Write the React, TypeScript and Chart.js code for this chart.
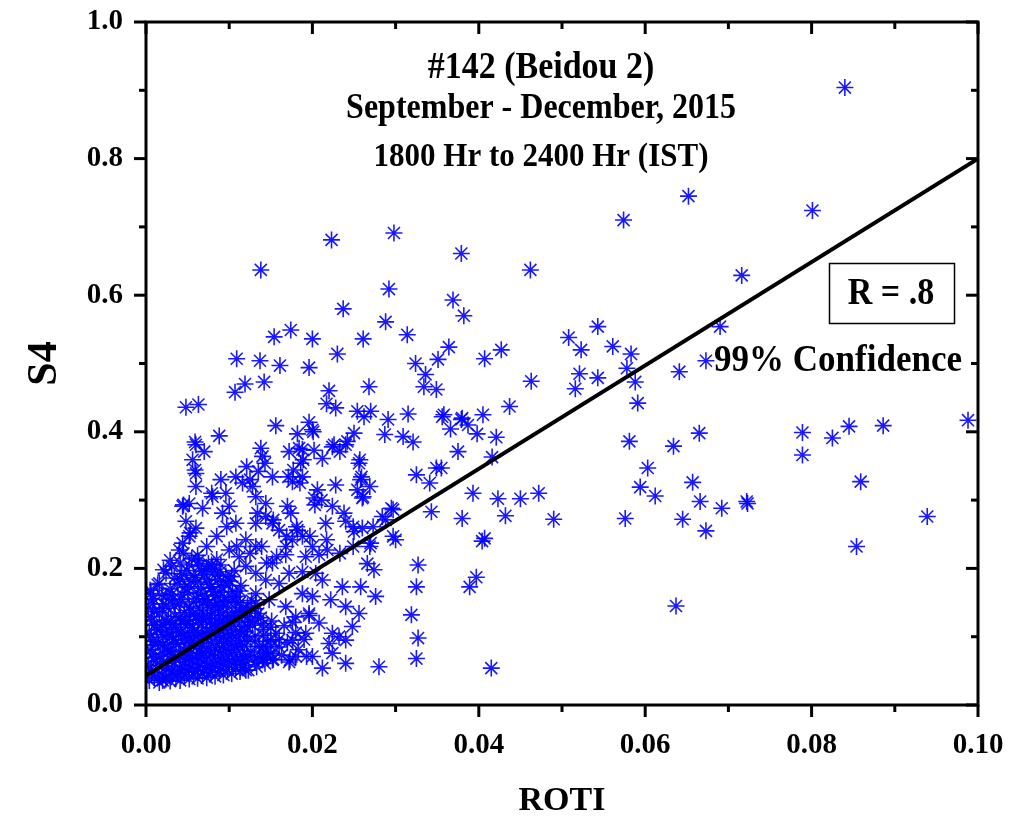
import React, { useEffect, useRef } from 'react';
import { Chart, registerables } from 'chart.js';

Chart.register(...registerables);

// ---------- data ----------
const xTickValues = [0, 0.02, 0.04, 0.06, 0.08, 0.1];
const xMinorTicks = [0.01, 0.03, 0.05, 0.07, 0.09];
const yTickValues = [0, 0.2, 0.4, 0.6, 0.8, 1.0];
const yMinorTicks = [0.1, 0.3, 0.5, 0.7, 0.9];

const titleLines = ['#142 (Beidou 2)', 'September - December, 2015', '1800 Hr to 2400 Hr (IST)'];
const xAxisTitle = 'ROTI';
const yAxisTitle = 'S4';
const rLabel = 'R = .8';
const confidenceLabel = '99% Confidence';

// linear fit endpoints (ROTI, S4)
const fitRoti = [0, 0.1];
const fitS4 = [0.043, 0.8];

const sparsePoints: [number, number][] = [
  [0.0840, 0.904], [0.0652, 0.745], [0.0574, 0.710], [0.0801, 0.724], [0.0298, 0.691],
  [0.0223, 0.681], [0.0379, 0.661], [0.0138, 0.637], [0.0462, 0.637], [0.0716, 0.629],
  [0.0292, 0.609], [0.0369, 0.593], [0.0237, 0.580], [0.0382, 0.570], [0.0288, 0.561],
  [0.0690, 0.554], [0.0543, 0.554], [0.0174, 0.549], [0.0314, 0.542], [0.0154, 0.539],
  [0.0508, 0.538], [0.0200, 0.536], [0.0261, 0.536], [0.0561, 0.525], [0.0364, 0.524],
  [0.0523, 0.520], [0.0427, 0.520], [0.0230, 0.514], [0.0583, 0.514], [0.0109, 0.507],
  [0.0407, 0.507], [0.0351, 0.506], [0.0137, 0.504], [0.0673, 0.504], [0.0324, 0.500],
  [0.0161, 0.497], [0.0196, 0.494], [0.0578, 0.493], [0.0641, 0.488], [0.0521, 0.485],
  [0.0336, 0.484], [0.0543, 0.479], [0.0463, 0.474], [0.0588, 0.473], [0.0142, 0.473],
  [0.0119, 0.470], [0.0334, 0.466], [0.0268, 0.466], [0.0516, 0.463], [0.0349, 0.462],
  [0.0220, 0.460], [0.0107, 0.458], [0.0591, 0.442], [0.0217, 0.441], [0.0063, 0.440],
  [0.0437, 0.437], [0.0048, 0.436], [0.0228, 0.435], [0.0254, 0.430], [0.0270, 0.430],
  [0.0315, 0.426], [0.0405, 0.425], [0.0358, 0.425], [0.0262, 0.422], [0.0356, 0.422],
  [0.0380, 0.420], [0.0291, 0.418], [0.0379, 0.418], [0.0988, 0.417], [0.0196, 0.414],
  [0.0387, 0.410], [0.0156, 0.409], [0.0886, 0.409], [0.0845, 0.408], [0.0366, 0.404],
  [0.0200, 0.403], [0.0201, 0.400], [0.0789, 0.399], [0.0665, 0.398], [0.0250, 0.398],
  [0.0182, 0.397], [0.0398, 0.397], [0.0287, 0.396], [0.0088, 0.394], [0.0309, 0.393],
  [0.0421, 0.392], [0.0825, 0.391], [0.0581, 0.386], [0.0242, 0.386], [0.0059, 0.385],
  [0.0321, 0.385], [0.0226, 0.381], [0.0060, 0.381], [0.0240, 0.381], [0.0634, 0.379],
  [0.0224, 0.378], [0.0138, 0.376], [0.0184, 0.376], [0.0188, 0.374], [0.0202, 0.373],
  [0.0070, 0.371], [0.0172, 0.371], [0.0233, 0.371], [0.0375, 0.371], [0.0789, 0.366],
  [0.0416, 0.363], [0.0212, 0.361], [0.0056, 0.359], [0.0189, 0.359], [0.0257, 0.359],
  [0.0140, 0.364], [0.0143, 0.354], [0.0186, 0.354], [0.0256, 0.354], [0.0121, 0.349],
  [0.0603, 0.347], [0.0349, 0.347], [0.0355, 0.347], [0.0059, 0.344], [0.0177, 0.344],
  [0.0135, 0.342], [0.0060, 0.339], [0.0325, 0.337], [0.0108, 0.334], [0.0152, 0.334],
  [0.0171, 0.334], [0.0188, 0.334], [0.0259, 0.334], [0.0090, 0.330], [0.0125, 0.330],
  [0.0258, 0.330], [0.0176, 0.327], [0.0859, 0.327], [0.0657, 0.326], [0.0116, 0.325],
  [0.0185, 0.325], [0.0341, 0.325], [0.0228, 0.322], [0.0060, 0.320], [0.0128, 0.320],
  [0.0269, 0.320], [0.0594, 0.319], [0.0206, 0.315], [0.0254, 0.315], [0.0079, 0.310],
  [0.0096, 0.310], [0.0393, 0.310], [0.0472, 0.310], [0.0612, 0.306], [0.0080, 0.305],
  [0.0132, 0.305], [0.0261, 0.305], [0.0202, 0.303], [0.0260, 0.303], [0.0423, 0.302],
  [0.0450, 0.302], [0.0211, 0.300], [0.0666, 0.298], [0.0722, 0.298], [0.0723, 0.295],
  [0.0144, 0.295], [0.0052, 0.295], [0.0045, 0.293], [0.0203, 0.293], [0.0044, 0.291],
  [0.0100, 0.291], [0.0170, 0.291], [0.0224, 0.291], [0.0692, 0.288], [0.0068, 0.288],
  [0.0295, 0.288], [0.0297, 0.286], [0.0343, 0.283], [0.0092, 0.281], [0.0174, 0.281],
  [0.0238, 0.281], [0.0134, 0.281], [0.0432, 0.277], [0.0284, 0.276], [0.0144, 0.276],
  [0.0939, 0.276], [0.0380, 0.273], [0.0576, 0.273], [0.0645, 0.272], [0.0490, 0.272],
  [0.0288, 0.271], [0.0153, 0.271], [0.0048, 0.269], [0.0240, 0.269], [0.0108, 0.266],
  [0.0132, 0.266], [0.0152, 0.266], [0.0216, 0.266], [0.0097, 0.261], [0.0181, 0.261],
  [0.0249, 0.261], [0.0273, 0.261], [0.0060, 0.259], [0.0260, 0.259], [0.0160, 0.256],
  [0.0182, 0.256], [0.0673, 0.255], [0.0250, 0.254], [0.0053, 0.252], [0.0052, 0.247],
  [0.0085, 0.247], [0.0169, 0.247], [0.0188, 0.247], [0.0197, 0.247], [0.0297, 0.247],
  [0.0407, 0.244], [0.0404, 0.240], [0.0120, 0.242], [0.0176, 0.242], [0.0217, 0.242],
  [0.0300, 0.242], [0.0044, 0.237], [0.0270, 0.237], [0.0854, 0.232], [0.0073, 0.232],
  [0.0109, 0.232], [0.0132, 0.232], [0.0139, 0.232], [0.0168, 0.232], [0.0200, 0.232],
  [0.0249, 0.232], [0.0269, 0.232], [0.0040, 0.227], [0.0100, 0.227], [0.0218, 0.227],
  [0.0045, 0.222], [0.0125, 0.222], [0.0233, 0.222], [0.0112, 0.217], [0.0157, 0.217],
  [0.0168, 0.220], [0.0192, 0.217], [0.0208, 0.220], [0.0029, 0.212], [0.0145, 0.208],
  [0.0152, 0.208], [0.0266, 0.207], [0.0327, 0.205], [0.0120, 0.203], [0.0021, 0.198],
  [0.0274, 0.198], [0.0188, 0.195], [0.0024, 0.193], [0.0132, 0.193], [0.0172, 0.193],
  [0.0204, 0.193], [0.0397, 0.187], [0.0144, 0.183], [0.0212, 0.183], [0.0016, 0.178],
  [0.0160, 0.178], [0.0236, 0.173], [0.0258, 0.173], [0.0325, 0.173], [0.0389, 0.173],
  [0.0006, 0.163], [0.0132, 0.163], [0.0188, 0.163], [0.0200, 0.159], [0.0276, 0.159],
  [0.0148, 0.154], [0.0222, 0.154], [0.0637, 0.145], [0.0168, 0.144], [0.0240, 0.144],
  [0.0256, 0.134], [0.0196, 0.134], [0.0319, 0.132], [0.0180, 0.129], [0.0208, 0.120],
  [0.0248, 0.115], [0.0224, 0.105], [0.0192, 0.105], [0.0232, 0.100], [0.0327, 0.098],
  [0.0240, 0.095], [0.0176, 0.095], [0.0220, 0.090], [0.0160, 0.085], [0.0144, 0.076],
  [0.0224, 0.076], [0.0200, 0.071], [0.0180, 0.071], [0.0325, 0.068], [0.0140, 0.066],
  [0.0152, 0.066], [0.0172, 0.063], [0.0240, 0.061], [0.0280, 0.056], [0.0212, 0.054],
  [0.0415, 0.054], [0.0120, 0.051],
];

// dense cloud of low ROTI / low S4 observations near the origin
const clusterPoints: [number, number][] = [
  [0.0004, 0.036], [0.0007, 0.047], [0.0003, 0.058], [0.0009, 0.069], [0.0005, 0.081], [0.0008, 0.093],
  [0.0004, 0.105], [0.0010, 0.117], [0.0006, 0.129], [0.0003, 0.142], [0.0009, 0.155], [0.0005, 0.168],
  [0.0016, 0.033], [0.0019, 0.043], [0.0014, 0.052], [0.0021, 0.061], [0.0017, 0.071], [0.0022, 0.082],
  [0.0015, 0.092], [0.0020, 0.103], [0.0018, 0.113], [0.0023, 0.124], [0.0016, 0.135], [0.0021, 0.148],
  [0.0019, 0.161], [0.0014, 0.176],
  [0.0029, 0.035], [0.0032, 0.045], [0.0027, 0.054], [0.0034, 0.063], [0.0030, 0.074], [0.0026, 0.085],
  [0.0033, 0.096], [0.0028, 0.107], [0.0031, 0.118], [0.0035, 0.130], [0.0027, 0.142], [0.0032, 0.155],
  [0.0029, 0.170], [0.0034, 0.186], [0.0031, 0.203],
  [0.0041, 0.036], [0.0038, 0.046], [0.0044, 0.057], [0.0040, 0.067], [0.0045, 0.078], [0.0039, 0.089],
  [0.0043, 0.100], [0.0037, 0.111], [0.0042, 0.123], [0.0046, 0.135], [0.0040, 0.148], [0.0044, 0.161],
  [0.0038, 0.177], [0.0043, 0.192], [0.0041, 0.208],
  [0.0052, 0.038], [0.0049, 0.048], [0.0055, 0.059], [0.0051, 0.069], [0.0047, 0.080], [0.0054, 0.091],
  [0.0050, 0.102], [0.0056, 0.113], [0.0048, 0.125], [0.0053, 0.138], [0.0057, 0.151], [0.0050, 0.165],
  [0.0054, 0.181], [0.0049, 0.197], [0.0055, 0.214],
  [0.0062, 0.039], [0.0059, 0.050], [0.0065, 0.061], [0.0061, 0.072], [0.0066, 0.083], [0.0058, 0.094],
  [0.0063, 0.106], [0.0067, 0.118], [0.0060, 0.130], [0.0064, 0.142], [0.0061, 0.156], [0.0066, 0.171],
  [0.0059, 0.187], [0.0064, 0.203], [0.0062, 0.219],
  [0.0073, 0.040], [0.0070, 0.052], [0.0076, 0.063], [0.0071, 0.075], [0.0068, 0.086], [0.0075, 0.098],
  [0.0072, 0.109], [0.0077, 0.121], [0.0069, 0.134], [0.0074, 0.147], [0.0071, 0.161], [0.0076, 0.177],
  [0.0070, 0.191], [0.0075, 0.207],
  [0.0083, 0.042], [0.0080, 0.054], [0.0086, 0.066], [0.0081, 0.078], [0.0078, 0.090], [0.0085, 0.101],
  [0.0082, 0.113], [0.0087, 0.126], [0.0079, 0.139], [0.0084, 0.153], [0.0081, 0.167], [0.0086, 0.183],
  [0.0080, 0.199], [0.0085, 0.213],
  [0.0093, 0.044], [0.0090, 0.056], [0.0096, 0.068], [0.0091, 0.081], [0.0088, 0.093], [0.0095, 0.105],
  [0.0092, 0.118], [0.0097, 0.131], [0.0089, 0.144], [0.0094, 0.158], [0.0091, 0.173], [0.0096, 0.189],
  [0.0090, 0.205],
  [0.0103, 0.046], [0.0100, 0.059], [0.0106, 0.071], [0.0101, 0.084], [0.0098, 0.097], [0.0105, 0.110],
  [0.0102, 0.123], [0.0107, 0.136], [0.0099, 0.151], [0.0104, 0.166], [0.0101, 0.181], [0.0106, 0.197],
  [0.0113, 0.049], [0.0110, 0.061], [0.0116, 0.074], [0.0111, 0.088], [0.0108, 0.101], [0.0115, 0.115],
  [0.0112, 0.129], [0.0117, 0.143], [0.0109, 0.159], [0.0114, 0.175],
  [0.0123, 0.051], [0.0120, 0.065], [0.0126, 0.079], [0.0121, 0.093], [0.0118, 0.107], [0.0125, 0.122],
  [0.0122, 0.137], [0.0127, 0.153],
  [0.0133, 0.056], [0.0130, 0.071], [0.0136, 0.086], [0.0131, 0.101], [0.0128, 0.117], [0.0135, 0.134],
  [0.0132, 0.149],
  [0.0143, 0.061], [0.0140, 0.077], [0.0146, 0.093], [0.0141, 0.111], [0.0138, 0.128],
  [0.0153, 0.067], [0.0150, 0.086], [0.0156, 0.105], [0.0151, 0.123],
  [0.0163, 0.073], [0.0160, 0.096], [0.0166, 0.116],
  [0.0173, 0.066], [0.0170, 0.091], [0.0176, 0.121],
  [0.0183, 0.081], [0.0180, 0.106],
  [0.0193, 0.071], [0.0190, 0.096], [0.0196, 0.131],
  // interleaved observations filling the solid core
  [0.0010, 0.040], [0.0012, 0.064], [0.0011, 0.088], [0.0013, 0.110], [0.0010, 0.137],
  [0.0024, 0.038], [0.0025, 0.057], [0.0026, 0.078], [0.0024, 0.099], [0.0025, 0.121], [0.0024, 0.160],
  [0.0036, 0.040], [0.0035, 0.069], [0.0036, 0.091], [0.0036, 0.113], [0.0034, 0.145],
  [0.0046, 0.042], [0.0047, 0.063], [0.0046, 0.095], [0.0047, 0.118], [0.0046, 0.172],
  [0.0057, 0.044], [0.0056, 0.066], [0.0057, 0.087], [0.0058, 0.109], [0.0057, 0.132], [0.0057, 0.190],
  [0.0068, 0.046], [0.0067, 0.069], [0.0068, 0.101], [0.0068, 0.126], [0.0068, 0.150], [0.0067, 0.196],
  [0.0078, 0.048], [0.0078, 0.072], [0.0079, 0.107], [0.0078, 0.131], [0.0078, 0.172], [0.0079, 0.205],
  [0.0088, 0.050], [0.0089, 0.074], [0.0089, 0.110], [0.0088, 0.136], [0.0089, 0.165], [0.0089, 0.195],
  [0.0098, 0.052], [0.0099, 0.077], [0.0098, 0.115], [0.0098, 0.142], [0.0099, 0.175],
  [0.0108, 0.055], [0.0109, 0.081], [0.0107, 0.121], [0.0108, 0.150],
  [0.0118, 0.058], [0.0118, 0.086], [0.0119, 0.130],
  [0.0006, 0.052], [0.0007, 0.075], [0.0006, 0.099], [0.0007, 0.123], [0.0008, 0.148],
  [0.0020, 0.036], [0.0019, 0.067], [0.0020, 0.088], [0.0019, 0.118], [0.0020, 0.141],
  [0.0031, 0.050], [0.0030, 0.080], [0.0031, 0.101], [0.0030, 0.124], [0.0031, 0.162],
  [0.0042, 0.051], [0.0041, 0.072], [0.0042, 0.106], [0.0041, 0.129], [0.0042, 0.154], [0.0041, 0.184],
  [0.0052, 0.053], [0.0053, 0.075], [0.0052, 0.097], [0.0052, 0.119], [0.0052, 0.144], [0.0052, 0.173],
  [0.0052, 0.205],
  [0.0063, 0.055], [0.0063, 0.077], [0.0062, 0.100], [0.0062, 0.124], [0.0063, 0.163], [0.0062, 0.180],
  [0.0063, 0.211],
  [0.0073, 0.057], [0.0073, 0.080], [0.0073, 0.103], [0.0073, 0.127], [0.0073, 0.154], [0.0073, 0.184],
  [0.0073, 0.199],
  [0.0083, 0.060], [0.0083, 0.084], [0.0083, 0.107], [0.0083, 0.119], [0.0083, 0.146], [0.0083, 0.160],
  [0.0083, 0.191],
  [0.0093, 0.062], [0.0093, 0.087], [0.0093, 0.099], [0.0093, 0.124], [0.0093, 0.151], [0.0093, 0.181],
  [0.0103, 0.065], [0.0103, 0.090], [0.0103, 0.103], [0.0103, 0.129], [0.0103, 0.158], [0.0103, 0.188],
  [0.0113, 0.067], [0.0113, 0.094], [0.0113, 0.108], [0.0113, 0.136], [0.0113, 0.150], [0.0113, 0.167],
  [0.0122, 0.072], [0.0122, 0.100], [0.0122, 0.114], [0.0122, 0.129], [0.0122, 0.145],
  [0.0131, 0.063], [0.0131, 0.093], [0.0131, 0.126], [0.0131, 0.141],
  [0.0141, 0.069], [0.0141, 0.085], [0.0141, 0.102], [0.0141, 0.119],
  [0.0150, 0.076], [0.0150, 0.095], [0.0150, 0.114],
];

// ---------- component ----------
const FONT = '"Liberation Serif", "Times New Roman", serif';

export default function App() {
  const canvasRef = useRef<HTMLCanvasElement | null>(null);

  useEffect(() => {
    const canvas = canvasRef.current;
    if (!canvas) return;

    const framePlugin = {
      id: 'frameTicks',
      afterDatasetsDraw(chart: any) {
        const { ctx, chartArea, scales } = chart;
        const { left, right, top, bottom } = chartArea;
        const xs = scales.x;
        const ys = scales.y;
        const major = 12;
        const minor = 7;
        ctx.save();
        ctx.strokeStyle = '#000';
        ctx.lineWidth = 3;
        ctx.lineCap = 'butt';
        const seg = (x1: number, y1: number, x2: number, y2: number) => {
          ctx.beginPath();
          ctx.moveTo(x1, y1);
          ctx.lineTo(x2, y2);
          ctx.stroke();
        };
        xTickValues.forEach((v) => {
          const p = xs.getPixelForValue(v);
          seg(p, bottom, p, bottom + major);
          seg(p, top, p, top + major);
        });
        xMinorTicks.forEach((v) => {
          const p = xs.getPixelForValue(v);
          seg(p, bottom, p, bottom + minor);
          seg(p, top, p, top + minor);
        });
        yTickValues.forEach((v) => {
          const p = ys.getPixelForValue(v);
          seg(left, p, left - major, p);
          seg(right, p, right - major, p);
        });
        yMinorTicks.forEach((v) => {
          const p = ys.getPixelForValue(v);
          seg(left, p, left - minor, p);
          seg(right, p, right - minor, p);
        });
        ctx.lineJoin = 'miter';
        ctx.strokeRect(left, top, right - left, bottom - top);
        ctx.restore();
      },
    };

    const drawText = (ctx: any, text: string, x: number, y: number, size: number, sy: number) => {
      ctx.save();
      ctx.translate(x, y);
      ctx.scale(1, sy);
      ctx.font = `bold ${size}px ${FONT}`;
      ctx.fillText(text, 0, 0);
      ctx.restore();
    };

    const textPlugin = {
      id: 'annotations',
      afterDraw(chart: any) {
        const { ctx } = chart;
        ctx.save();
        ctx.fillStyle = '#000';
        ctx.textAlign = 'center';
        ctx.textBaseline = 'middle';
        drawText(ctx, titleLines[0], 541, 68, 34, 1.1);
        drawText(ctx, titleLines[1], 541, 109, 32, 1.1);
        drawText(ctx, titleLines[2], 541, 157, 31, 1.08);

        ctx.strokeStyle = '#000';
        ctx.lineWidth = 1.5;
        ctx.strokeRect(829.5, 263.5, 125, 60);
        drawText(ctx, rLabel, 891, 294, 34, 1.1);
        drawText(ctx, confidenceLabel, 838, 361, 35, 1.08);
        ctx.restore();
      },
    };

    const scatterData = [...sparsePoints, ...clusterPoints].map(([x, y]) => ({ x, y }));
    const fitData = fitRoti.map((x, i) => ({ x, y: fitS4[i] }));

    const tickFont = { family: FONT, weight: 'bold' as const, size: 29 };
    const zeroPad = (s: any) => {
      s.paddingTop = 0;
      s.paddingBottom = 0;
      s.paddingLeft = 0;
      s.paddingRight = 0;
    };

    const chart = new Chart(canvas, {
      type: 'scatter',
      data: {
        datasets: [
          {
            type: 'line',
            label: 'fit',
            data: fitData,
            borderColor: '#000',
            borderWidth: 4,
            pointRadius: 0,
            fill: false,
            clip: 0,
          } as any,
          {
            label: 'S4 vs ROTI',
            data: scatterData,
            pointStyle: 'star',
            pointRadius: 8.5,
            pointBorderWidth: 1.6,
            borderColor: 'rgba(0,0,255,0.9)',
            backgroundColor: 'rgba(0,0,255,0.9)',
            clip: 0,
          } as any,
        ],
      },
      options: {
        animation: false,
        responsive: true,
        maintainAspectRatio: false,
        events: [],
        layout: { padding: { top: 22, right: 32, left: 0, bottom: 0 } },
        plugins: {
          legend: { display: false },
          tooltip: { enabled: false },
          title: { display: false },
        },
        scales: {
          x: {
            type: 'linear',
            min: 0,
            max: 0.1,
            grid: { display: false, drawTicks: false },
            border: { display: false },
            afterBuildTicks: (s: any) => {
              s.ticks = xTickValues.map((v) => ({ value: v }));
            },
            afterFit: (s: any) => {
              s.height = 118;
              zeroPad(s);
            },
            ticks: {
              padding: 23,
              color: '#000',
              font: tickFont,
              maxRotation: 0,
              autoSkip: false,
              callback: (v: any) => Number(v).toFixed(2),
            },
            title: {
              display: true,
              text: xAxisTitle,
              color: '#000',
              font: { family: FONT, weight: 'bold', size: 34 },
              padding: { top: 0, bottom: 1 },
            },
          },
          y: {
            type: 'linear',
            min: 0,
            max: 1,
            grid: { display: false, drawTicks: false },
            border: { display: false },
            afterBuildTicks: (s: any) => {
              s.ticks = yTickValues.map((v) => ({ value: v }));
            },
            afterFit: (s: any) => {
              s.width = 146;
              zeroPad(s);
            },
            ticks: {
              padding: 23,
              color: '#000',
              font: tickFont,
              autoSkip: false,
              callback: (v: any) => Number(v).toFixed(1),
            },
            title: {
              display: true,
              text: yAxisTitle,
              color: '#000',
              font: { family: FONT, weight: 'bold', size: 42 },
              padding: { top: 20, bottom: 0 },
            },
          },
        },
      },
      plugins: [framePlugin, textPlugin],
    });

    return () => chart.destroy();
  }, []);

  return (
    <div
      style={{
        position: 'fixed',
        left: 0,
        top: 0,
        width: 1010,
        height: 823,
        background: '#fff',
      }}
    >
      <canvas ref={canvasRef} />
    </div>
  );
}
